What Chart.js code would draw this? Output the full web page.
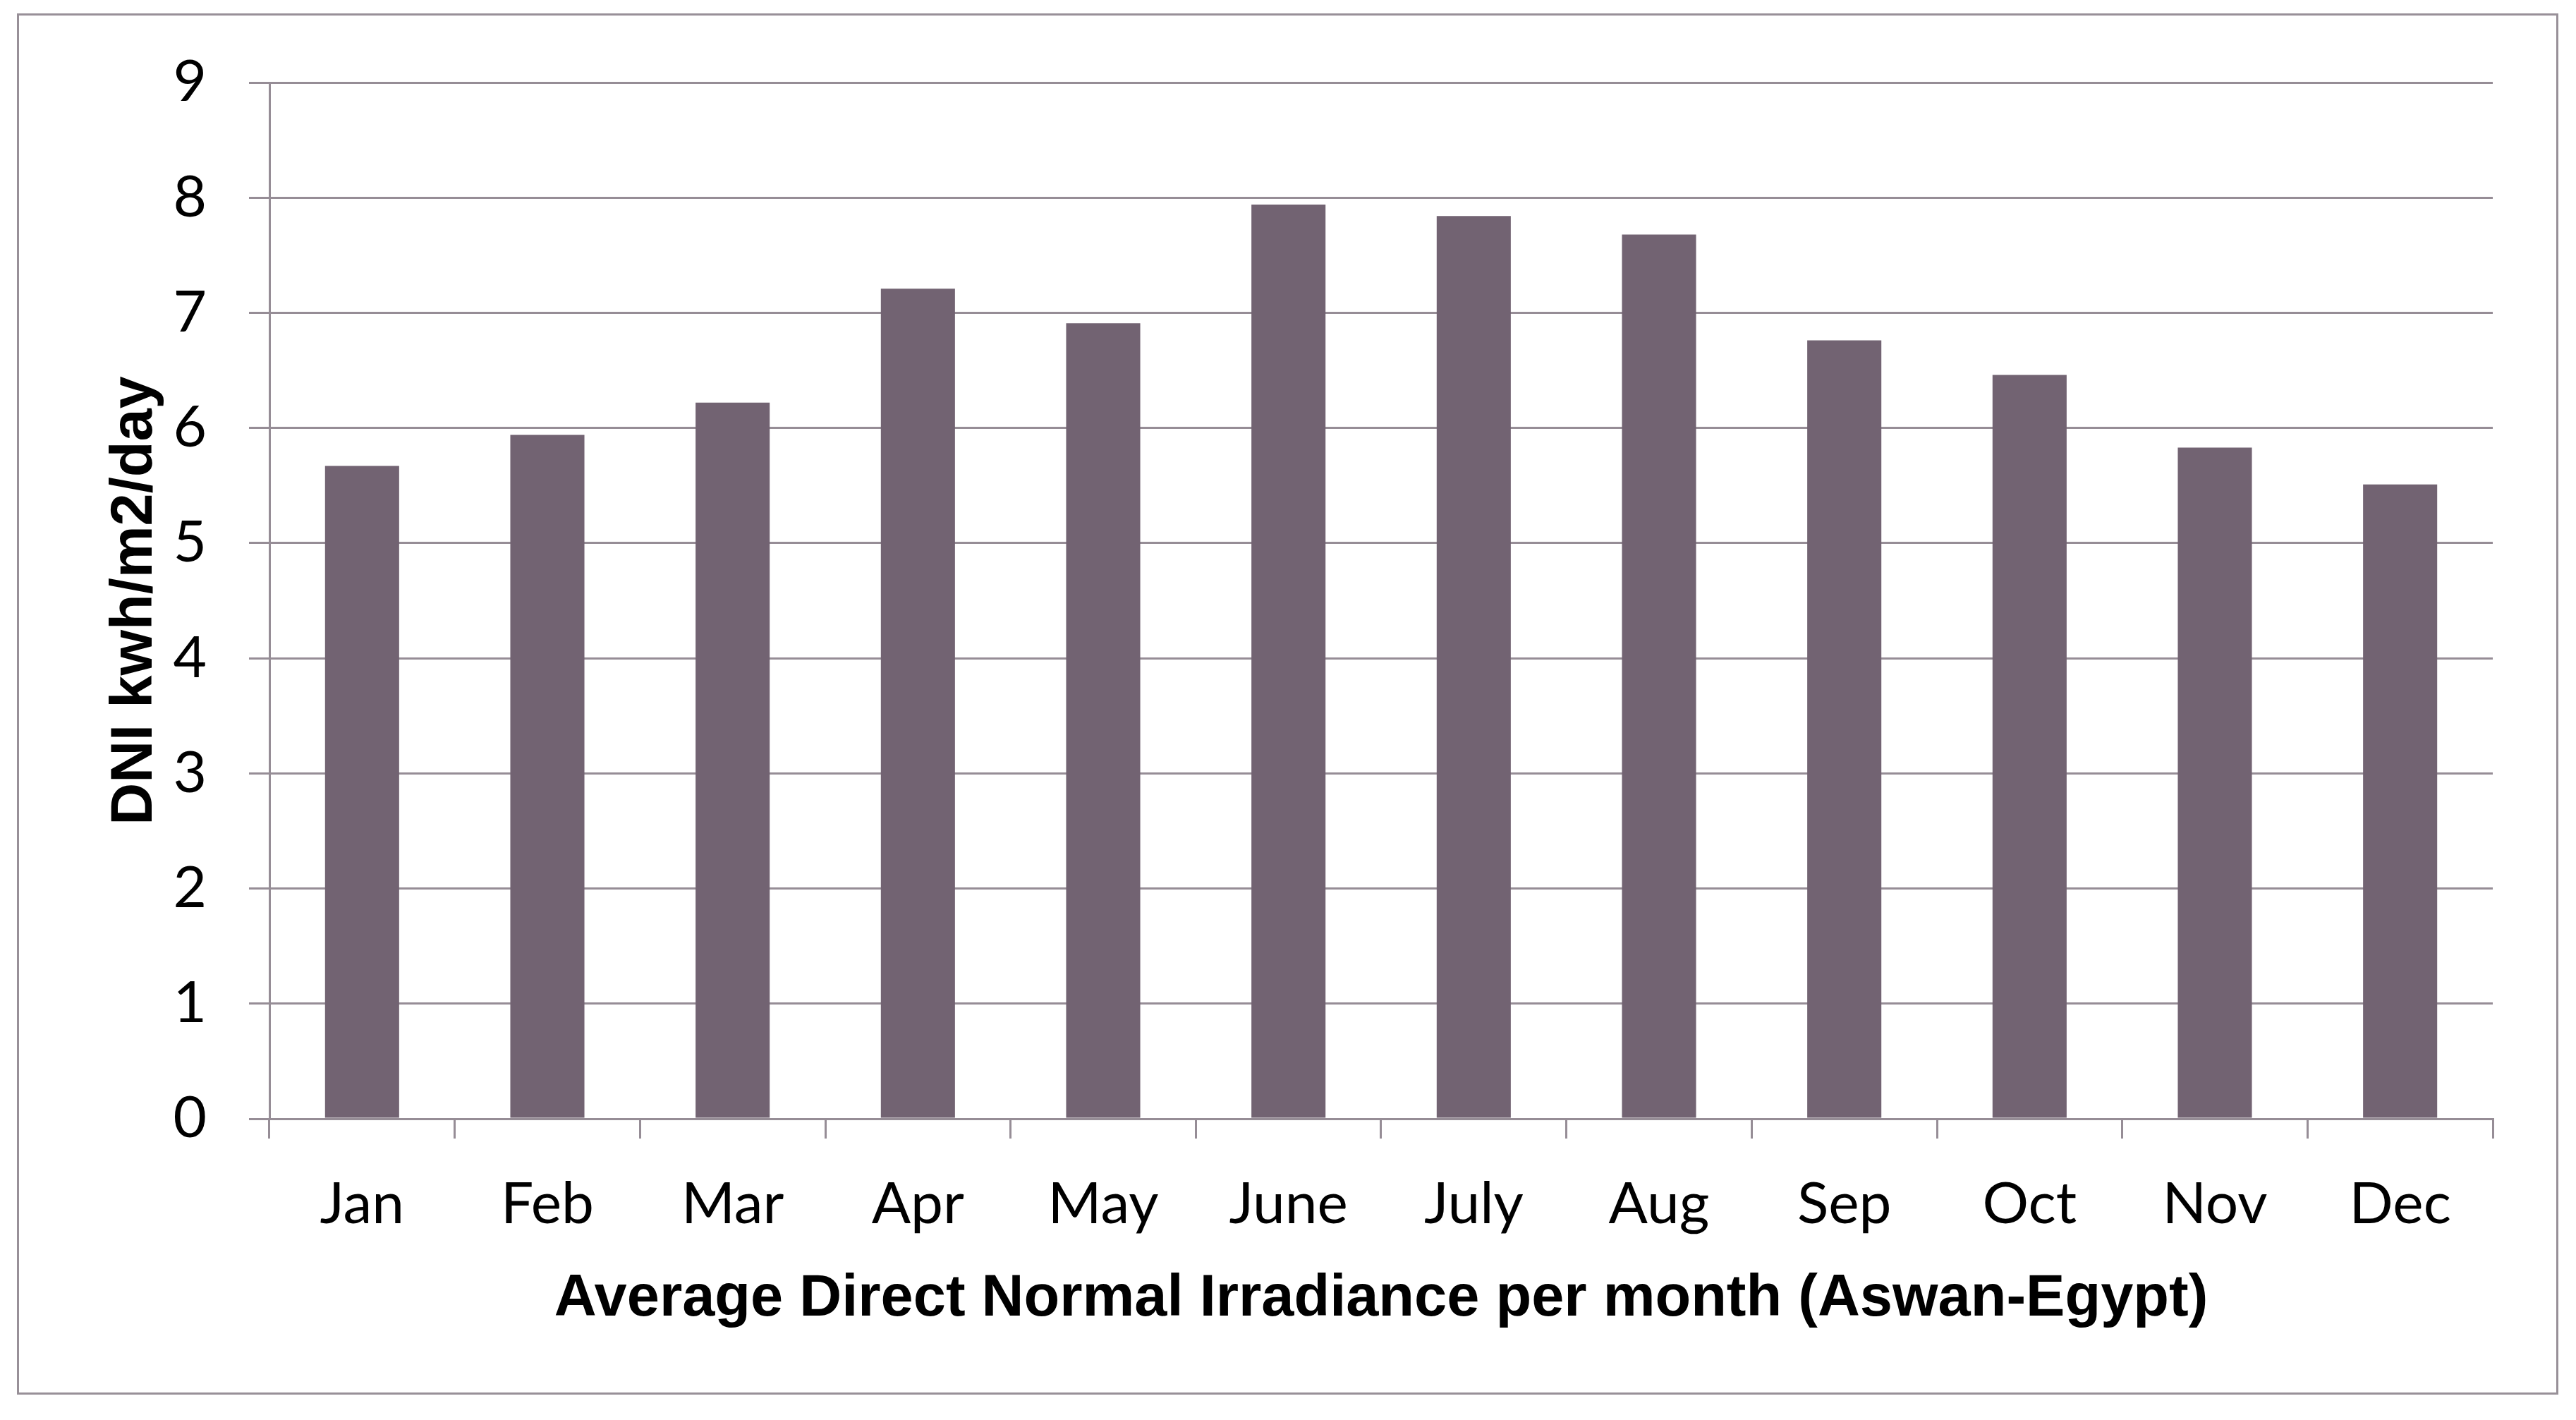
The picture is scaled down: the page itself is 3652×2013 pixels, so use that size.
<!DOCTYPE html>
<html>
<head>
<meta charset="utf-8">
<script src="https://cdn.jsdelivr.net/npm/chart.js@4"></script>
<style>
  html, body { margin: 0; padding: 0; background: #ffffff; }
  #wrap { position: relative; width: 3652px; height: 2013px; }
  #frame { position: absolute; left: 24px; top: 19px; width: 3597px; height: 1952px; border: 3px solid #989098; pointer-events: none; }
  canvas { position: absolute; left: 0; top: 0; }
</style>
</head>
<body>
<div id="wrap">
  <canvas id="c" width="3652" height="2013"></canvas>
  <div id="frame"></div>
</div>
<script>
const months = ["Jan", "Feb", "Mar", "Apr", "May", "June", "July", "Aug", "Sep", "Oct", "Nov", "Dec"];
const dniValues = [5.67, 5.94, 6.22, 7.21, 6.91, 7.94, 7.84, 7.68, 6.76, 6.46, 5.83, 5.51];
const yTicks = [0, 1, 2, 3, 4, 5, 6, 7, 8, 9];
const xTitle = "Average Direct Normal Irradiance per month (Aswan-Egypt)";
const yTitle = "DNI kwh/m2/day";

const gridColor = "#968d96";
const barColor = "#726372";
const tickFont = { family: "Lato, 'Open Sans', sans-serif", size: 82 };
const titleFont = { family: "'Liberation Sans', Arial, sans-serif", size: 83, weight: "bold" };

new Chart(document.getElementById("c"), {
  type: "bar",
  data: {
    labels: months,
    datasets: [{
      data: dniValues,
      backgroundColor: barColor,
      borderWidth: 0,
      barPercentage: 0.4,
      categoryPercentage: 1.0
    }]
  },
  options: {
    responsive: false,
    animation: false,
    devicePixelRatio: 1,
    layout: { padding: { left: 0, right: 118, top: 117, bottom: 0 } },
    plugins: { legend: { display: false }, tooltip: { enabled: false } },
    scales: {
      x: {
        offset: true,
        grid: { display: true, drawOnChartArea: false, drawTicks: true, tickLength: 28, color: gridColor, lineWidth: 3, offset: true },
        border: { display: true, color: gridColor, width: 3 },
        ticks: { font: tickFont, color: "#000000", padding: 44, maxRotation: 0, autoSkip: false },
        title: { display: true, text: xTitle, font: titleFont, color: "#000000", padding: { top: 0, bottom: 121 } },
        afterFit: (s) => { s.height = 2013 - 1586; }
      },
      y: {
        min: 0,
        max: 9,
        afterBuildTicks: (s) => { s.ticks = yTicks.map(v => ({ value: v })); },
        grid: { display: true, drawOnChartArea: true, drawTicks: true, tickLength: 29, color: gridColor, lineWidth: 3 },
        border: { display: true, color: gridColor, width: 3 },
        ticks: { font: tickFont, color: "#000000", padding: 60, stepSize: 1 },
        title: { display: true, text: yTitle, font: titleFont, color: "#000000", padding: { top: 142, bottom: 0 } },
        afterFit: (s) => { s.width = 382; }
      }
    }
  }
});
</script>
</body>
</html>
